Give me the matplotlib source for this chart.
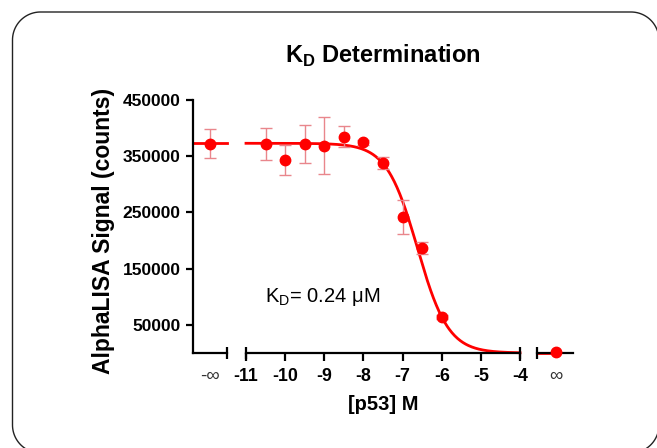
import matplotlib
matplotlib.use("Agg")
import matplotlib.pyplot as plt
import numpy as np
from matplotlib.patches import FancyBboxPatch
from matplotlib.transforms import IdentityTransform

plt.rcParams['font.family'] = ['Liberation Sans', 'DejaVu Sans']
plt.rcParams['mathtext.fontset'] = 'custom'
plt.rcParams['mathtext.rm'] = 'Liberation Sans'
plt.rcParams['mathtext.bf'] = 'Liberation Sans:bold'

# ---- data ----
log_conc = [-10.5, -10.0, -9.5, -9.0, -8.5, -8.0, -7.5, -7.0, -6.5, -6.0]
signal = [371600, 343800, 372000, 368600, 385000, 374500, 338000, 241800, 186800, 64000]
sem = [29000, 27000, 34000, 51000, 19000, 5000, 10000, 31000, 10000, 4000]
neg_inf_signal = [372000]
neg_inf_sem = [26000]
pos_inf_signal = [2000]
pos_inf_sem = [0]
fit_top = 373000
fit_bottom = 0
fit_logic50 = np.log10(0.24e-6)
fit_hill = 1.1
x_ticks = [-11, -10, -9, -8, -7, -6, -5, -4]
y_ticks = [50000, 150000, 250000, 350000, 450000]

RED = '#ff0000'
ERR = '#e9868c'

def four_pl(x):
    return fit_bottom + (fit_top - fit_bottom) / (1 + 10 ** ((x - fit_logic50) * fit_hill))

W, H = 657, 448
fig = plt.figure(figsize=(W / 100, H / 100), dpi=100)

# rounded border drawn as a path in pixel coordinates (origin bottom-left);
# right and bottom edges lie off the canvas
from matplotlib.patches import PathPatch
from matplotlib.path import Path
r = 28
x0, x1 = 12.5, 659.0
yt = H - 12.0
yb = H - 453.0
th = np.linspace(0, np.pi / 2, 30)
pts = []
# top-left corner
pts += [(x0 + r - r * np.cos(t), yt - r + r * np.sin(t)) for t in th]
# top-right corner
pts += [(x1 - r + r * np.sin(t), yt - r + r * np.cos(t)) for t in th]
# bottom-right corner
pts += [(x1 - r + r * np.cos(t), yb + r - r * np.sin(t)) for t in th]
# bottom-left corner
pts += [(x0 + r - r * np.sin(t), yb + r - r * np.cos(t)) for t in th]
pts.append(pts[0])
border = PathPatch(Path(pts), transform=IdentityTransform(), fill=False, ec='#222222', lw=1.0)
fig.add_artist(border)

def px_axes(x0, x1):
    return fig.add_axes([x0 / W, 1 - 353 / H, (x1 - x0) / W, (353 - 100) / H])

axL = px_axes(193, 227)
axM = px_axes(246, 520)
axR = px_axes(537, 573)

lw_axis = 1.6
for ax in (axL, axM, axR):
    ax.set_ylim(0, 450000)
    for s in ('top', 'right'):
        ax.spines[s].set_visible(False)
    ax.spines['bottom'].set_linewidth(lw_axis)
    ax.spines['left'].set_linewidth(lw_axis)
    ax.patch.set_alpha(0)

axM.spines['left'].set_visible(False)
axR.spines['left'].set_visible(False)
axM.tick_params(axis='y', left=False, labelleft=False)
axR.tick_params(axis='y', left=False, labelleft=False)

axL.set_yticks(y_ticks)
axL.set_yticklabels([str(v) for v in y_ticks], fontweight='bold', fontsize=12.5)
axL.tick_params(axis='y', length=5, width=lw_axis, pad=4)

# left segment (-inf)
neg_x = [0.5]
axL.set_xlim(0, 1)
axL.plot([0, 1], [fit_top, fit_top], color=RED, lw=2, clip_on=False)
axL.errorbar(neg_x, neg_inf_signal, yerr=neg_inf_sem, fmt='none', ecolor=ERR, elinewidth=1, capsize=4, capthick=1)
axL.plot(neg_x, neg_inf_signal, 'o', color=RED, ms=7.5, clip_on=False)
axL.set_xticks(neg_x)
axL.set_xticklabels(['-∞'], fontsize=13.5, color='#333333')
axL.tick_params(axis='x', length=0, pad=11)

# main segment
axM.set_xlim(-11, -4)
xs = np.linspace(-11, -4, 400)
axM.plot(xs, four_pl(xs), color=RED, lw=2, clip_on=False)
axM.errorbar(log_conc, signal, yerr=sem, fmt='none', ecolor=ERR, elinewidth=1, capsize=4, capthick=1)
axM.plot(log_conc, signal, 'o', color=RED, ms=7.5, clip_on=False)
axM.set_xticks(x_ticks)
axM.set_xticklabels([str(v) for v in x_ticks], fontweight='bold', fontsize=12.8)
axM.tick_params(axis='x', length=6, width=lw_axis, pad=5)

# right segment (+inf)
pos_x = [0.53]
axR.set_xlim(0, 1)
axR.plot([0, pos_x[0]], [fit_bottom, fit_bottom], color=RED, lw=2, clip_on=False)
axR.plot(pos_x, pos_inf_signal, 'o', color=RED, ms=7.5, clip_on=False, zorder=5)
axR.set_xticks(pos_x)
axR.set_xticklabels(['∞'], fontsize=13.5, color='#333333')
axR.tick_params(axis='x', length=0, pad=11)

# segment end ticks (through the axis)
for ax, xe in ((axL, 1), (axM, -11), (axM, -4), (axR, 0)):
    ax.plot([xe, xe], [-0.025, 0.025], color='black', lw=lw_axis,
            transform=ax.get_xaxis_transform(), clip_on=False, solid_capstyle='butt')

# texts
fig.text(383 / W, 1 - 56 / H, r'K$_\mathbf{D}$ Determination', ha='center', va='center',
         fontsize=17, fontweight='bold')
fig.text(383 / W, 1 - 405 / H, '[p53] M', ha='center', va='center', fontsize=14.5, fontweight='bold')
fig.text(104 / W, 1 - 231 / H, 'AlphaLISA Signal (counts)', ha='center', va='center',
         rotation=90, fontsize=16.5, fontweight='bold')
fig.text(265 / W, 1 - 297 / H, r'K$_\mathrm{D}$= 0.24 μM', ha='left', va='center', fontsize=14.5)

fig.savefig('out.png', dpi=100)
